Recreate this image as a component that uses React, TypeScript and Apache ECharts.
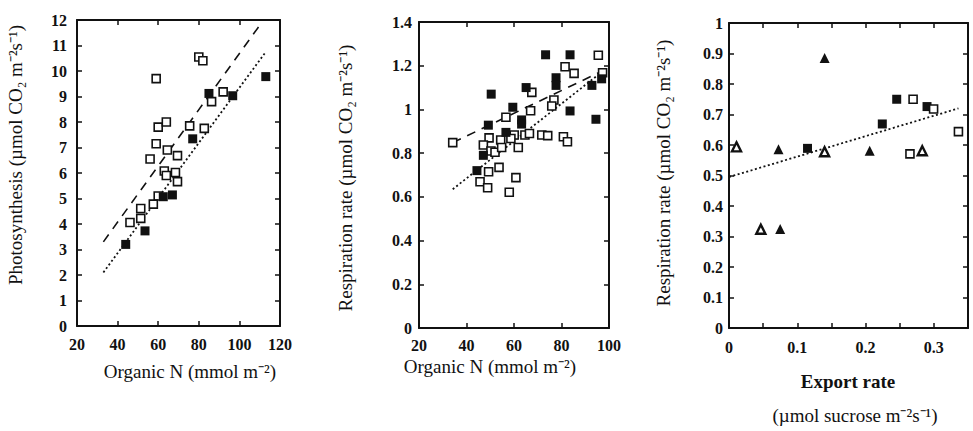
import React, { useEffect, useRef } from "react";
import * as echarts from "echarts";

// Panel A: photosynthesis vs organic N
const photoOpen: number[][] = [
  [59, 9.7], [80, 10.55], [82, 10.4], [60, 7.8], [64, 8.0], [59, 7.15], [64.5, 6.9],
  [56, 6.55], [69.5, 6.68], [63, 6.08], [64, 5.9], [68.5, 6.02], [69.5, 5.66],
  [75.5, 7.85], [82.7, 7.75], [86.3, 8.8], [92, 9.18], [60, 5.1], [57.6, 4.78],
  [51.4, 4.61], [51.4, 4.22], [46.1, 4.06],
];
const photoFilled: number[][] = [
  [113, 9.78], [85, 9.12], [96.7, 9.03], [77, 7.34], [62.5, 5.07], [67, 5.14],
  [44, 3.2], [53.5, 3.73],
];
const photoFitOpen: number[][] = [[33, 3.3], [111, 11.9]];
const photoFitFilled: number[][] = [[33, 2.1], [113, 10.75]];

// Panel B: respiration vs organic N
const respNOpen: number[][] = [
  [34.2, 0.848], [95.5, 1.248], [81.5, 1.195], [85.3, 1.165], [97.3, 1.168],
  [67.5, 1.078], [76.8, 1.043], [75.9, 1.016], [67, 0.994], [56.6, 0.964],
  [60.1, 0.883], [64.6, 0.883], [66.5, 0.89], [71.7, 0.883], [74.2, 0.88],
  [80.8, 0.875], [82.5, 0.852], [49.5, 0.87], [47.1, 0.837], [54.4, 0.86],
  [58.7, 0.867], [50.3, 0.81], [52, 0.804], [54.8, 0.826], [61.8, 0.826],
  [49.3, 0.715], [53.7, 0.735], [60.8, 0.688], [45.7, 0.669], [48.9, 0.642],
  [58, 0.621],
];
const respNFilled: number[][] = [
  [73.3, 1.25], [83.6, 1.25], [50.4, 1.07], [65.1, 1.1], [77.7, 1.145], [77.7, 1.11],
  [59.5, 1.01], [63.2, 0.952], [63.2, 0.933], [49.2, 0.928], [56.6, 0.895],
  [83.6, 0.993], [92.8, 1.11], [96.9, 1.14], [94.5, 0.955], [47.1, 0.79], [44.4, 0.72],
];
const respNFitOpen: number[][] = [[34.2, 0.635], [98, 1.18]];
const respNFitFilled: number[][] = [[34.2, 0.848], [97, 1.175]];

// Panel C: respiration vs export rate
const exportTriFilled: number[][] = [[0.14, 0.885], [0.0725, 0.586], [0.206, 0.581], [0.075, 0.325]];
const exportTriOpen: number[][] = [[0.011, 0.594], [0.14, 0.578], [0.0466, 0.324], [0.283, 0.581]];
const exportSqFilled: number[][] = [[0.115, 0.589], [0.2245, 0.669], [0.2456, 0.75], [0.29, 0.726]];
const exportSqOpen: number[][] = [[0.2696, 0.75], [0.2996, 0.718], [0.265, 0.571], [0.336, 0.644]];
const exportFit: number[][] = [[0, 0.495], [0.336, 0.72]];

const SERIF = "'Liberation Serif', 'Times New Roman', serif";
const INK = "#111";

const tickLabel = {
  color: INK,
  fontFamily: SERIF,
  fontSize: 16,
  fontWeight: "bold" as const,
};

function axisPair(
  gridIndex: number,
  min: number,
  max: number,
  interval: number,
  horizontal: boolean,
  margin: number,
  formatter?: (v: number) => string
) {
  const base = {
    gridIndex,
    type: "value",
    min,
    max,
    interval,
    splitLine: { show: false },
    axisLine: { show: true, onZero: false, lineStyle: { color: INK, width: 2 } },
    axisTick: { show: true, inside: true, length: 5, lineStyle: { color: INK, width: 1.5 } },
  };
  const main = {
    ...base,
    position: horizontal ? "bottom" : "left",
    axisLabel: { ...tickLabel, margin, formatter, showMaxLabel: true, showMinLabel: true },
  };
  const mirror = {
    ...base,
    position: horizontal ? "top" : "right",
    axisLabel: { show: false },
  };
  return [main, mirror];
}

function scatter(idx: number, data: number[][], symbol: string, size: number, filled: boolean, border = 1.6) {
  return {
    type: "scatter",
    xAxisIndex: idx * 2,
    yAxisIndex: idx * 2,
    data,
    symbol,
    symbolSize: size,
    itemStyle: {
      color: filled ? INK : "#fff",
      borderColor: INK,
      borderWidth: filled ? 0 : border,
      opacity: 1,
    },
    z: 3,
  };
}

function fit(idx: number, data: number[][], dash: number[], width: number) {
  return {
    type: "line",
    xAxisIndex: idx * 2,
    yAxisIndex: idx * 2,
    data,
    showSymbol: false,
    symbol: "none",
    lineStyle: { color: INK, width, type: dash },
    z: 2,
  };
}

function title(text: string, x: number, y: number, vertical: boolean, bold = false, size = 19) {
  return {
    type: "text",
    x,
    y,
    rotation: vertical ? Math.PI / 2 : 0,
    style: {
      text,
      fill: INK,
      font: `${bold ? "bold " : ""}${size}px ${SERIF}`,
      textAlign: "center",
      textVerticalAlign: "middle",
    },
  };
}

export default function App() {
  const ref = useRef<HTMLDivElement>(null);

  useEffect(() => {
    if (!ref.current) return;
    const chart = echarts.init(ref.current, null, { renderer: "svg" });

    const [ax0, ax0m] = axisPair(0, 20, 120, 20, true, 10);
    const [ay0, ay0m] = axisPair(0, 0, 12, 1, false, 10);
    const [ax1, ax1m] = axisPair(1, 20, 100, 20, true, 9);
    const [ay1, ay1m] = axisPair(1, 0, 1.4, 0.2, false, 7);
    const [ax2, ax2m] = axisPair(2, 0, 0.35, 0.05, true, 11, (v: number) => {
      const k = Math.round(v * 100);
      return k % 10 === 0 && k <= 30 ? String(k / 100) : "";
    });
    const [ay2, ay2m] = axisPair(2, 0, 1, 0.1, false, 6);

    chart.setOption({
      animation: false,
      backgroundColor: "#fff",
      grid: [
        { left: 77, top: 20, width: 203, height: 306 },
        { left: 419, top: 22, width: 190, height: 306 },
        { left: 729, top: 23, width: 239, height: 305 },
      ],
      xAxis: [ax0, ax0m, ax1, ax1m, ax2, ax2m],
      yAxis: [ay0, ay0m, ay1, ay1m, ay2, ay2m],
      series: [
        fit(0, photoFitOpen, [9, 7], 1.6),
        fit(0, photoFitFilled, [2, 2.5], 1.8),
        scatter(0, photoOpen, "rect", 8, false),
        scatter(0, photoFilled, "rect", 9, true),

        fit(1, respNFitFilled, [9, 7], 1.6),
        fit(1, respNFitOpen, [2, 2.5], 1.8),
        scatter(1, respNOpen, "rect", 8, false),
        scatter(1, respNFilled, "rect", 9, true),

        fit(2, exportFit, [2, 2.5], 1.8),
        scatter(2, exportTriFilled, "triangle", 10, true),
        scatter(2, exportTriOpen, "triangle", 9, false, 2.4),
        scatter(2, exportSqFilled, "rect", 9, true),
        scatter(2, exportSqOpen, "rect", 8, false),
      ],
      graphic: [
        title("Photosynthesis (µmol CO₂ m⁻²s⁻¹)", 15, 155, true),
        title("Organic N (mmol m⁻²)", 190, 371, false),
        title("Respiration rate (µmol CO₂ m⁻²s⁻¹)", 345, 178, true),
        title("Organic N (mmol m⁻²)", 490, 366, false),
        title("Respiration rate (µmol CO₂ m⁻²s⁻¹)", 663, 173, true),
        title("Export rate", 848, 381, false, true),
        title("(µmol sucrose m⁻²s⁻¹)", 855, 415, false, false, 19),
      ],
    });

    return () => chart.dispose();
  }, []);

  return (
    <div
      ref={ref}
      style={{ position: "absolute", left: 0, top: 0, width: 973, height: 431, background: "#fff" }}
    />
  );
}
